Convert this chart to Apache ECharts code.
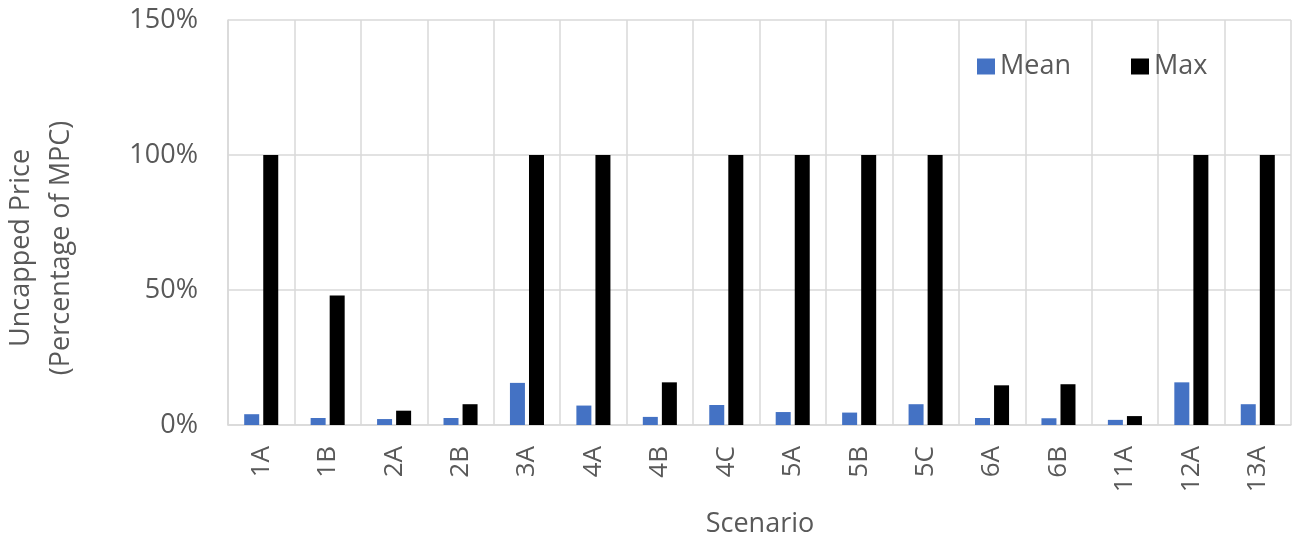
<!DOCTYPE html>
<html>
<head>
<meta charset="utf-8">
<script src="https://cdn.jsdelivr.net/npm/echarts@6/dist/echarts.min.js"></script>
<style>
  html, body { margin: 0; padding: 0; background: #fff; }
  #chart { width: 1292px; height: 540px; }
</style>
</head>
<body>
<div id="chart"></div>
<script>
// Scenario names along the x axis
const scenarios = ['1A', '1B', '2A', '2B', '3A', '4A', '4B', '4C', '5A', '5B', '5C', '6A', '6B', '11A', '12A', '13A'];
// Uncapped price as a percentage of MPC
const meanValues = [4.0, 2.6, 2.2, 2.6, 15.6, 7.2, 3.0, 7.4, 4.8, 4.6, 7.7, 2.6, 2.5, 1.9, 15.8, 7.7];
const maxValues = [100, 48, 5.3, 7.7, 100, 100, 15.8, 100, 100, 100, 100, 14.7, 15.1, 3.3, 100, 100];
// Value axis ticks
const yTicks = [0, 50, 100, 150];

const FONT = '"Open Sans", "Liberation Sans", sans-serif';
const TEXT = '#595959';
const GRID = '#d9d9d9';

const chart = echarts.init(document.getElementById('chart'), null, { renderer: 'canvas' });

chart.setOption({
  animation: false,
  backgroundColor: '#ffffff',
  textStyle: { fontFamily: FONT },
  grid: { left: 228, right: 1, top: 20, bottom: 115, containLabel: false },
  legend: {
    left: 977,
    top: 53,
    padding: 0,
    itemWidth: 18,
    itemHeight: 16,
    itemGap: 60,
    itemTextGap: 9,
    itemStyle: { borderWidth: 0 },
    textStyle: { fontFamily: FONT, fontSize: 27, color: TEXT, padding: [0, 0, 0, 0] },
    icon: 'rect',
    data: ['Mean', 'Max']
  },
  xAxis: {
    type: 'category',
    data: scenarios,
    boundaryGap: true,
    axisLine: { show: true, lineStyle: { color: GRID, width: 1.5 } },
    axisTick: { show: false },
    splitLine: { show: true, lineStyle: { color: GRID, width: 1.5 } },
    axisLabel: {
      rotate: 90,
      margin: 21,
      interval: 0,
      fontFamily: FONT,
      fontSize: 26,
      color: TEXT
    }
  },
  yAxis: {
    type: 'value',
    min: 0,
    max: 150,
    interval: 50,
    axisLine: { show: true, lineStyle: { color: GRID, width: 1.5 } },
    axisTick: { show: false },
    splitLine: { show: true, lineStyle: { color: GRID, width: 1.5 } },
    axisLabel: {
      margin: 30,
      fontFamily: FONT,
      fontSize: 27,
      color: TEXT,
      formatter: function (v) { return yTicks.indexOf(v) >= 0 ? v + '%' : ''; }
    }
  },
  graphic: [
    {
      type: 'text',
      x: 21, y: 248,
      rotation: Math.PI / 2,
      style: {
        text: 'Uncapped Price',
        font: '27px ' + FONT,
        fill: TEXT,
        align: 'center',
        verticalAlign: 'middle'
      }
    },
    {
      type: 'text',
      x: 61, y: 248,
      rotation: Math.PI / 2,
      style: {
        text: '(Percentage of MPC)',
        font: '27px ' + FONT,
        fill: TEXT,
        align: 'center',
        verticalAlign: 'middle'
      }
    },
    {
      type: 'text',
      x: 760, y: 524,
      style: {
        text: 'Scenario',
        font: '27px ' + FONT,
        fill: TEXT,
        align: 'center',
        verticalAlign: 'middle'
      }
    }
  ],
  series: [
    {
      name: 'Mean',
      type: 'bar',
      data: meanValues,
      barWidth: 15,
      barGap: '27%',
      itemStyle: { color: '#4472c4' }
    },
    {
      name: 'Max',
      type: 'bar',
      data: maxValues,
      barWidth: 15,
      barGap: '27%',
      itemStyle: { color: '#000000' }
    }
  ]
});
</script>
</body>
</html>
